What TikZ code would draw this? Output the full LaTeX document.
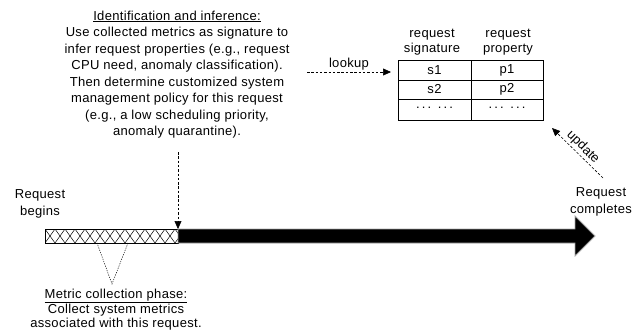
\documentclass[tikz,border=0pt]{standalone}
\usepackage{fontspec}
\setmainfont{Liberation Sans}[LetterSpace=2.5]
\newfontfamily\plainsans{Liberation Sans}
\usetikzlibrary{arrows.meta}
\begin{document}
\begin{tikzpicture}[x=1pt,y=-1pt,
  txt/.style={inner sep=0pt,align=center,font=\fontsize{13}{16.5}\selectfont},
  txtb/.style={inner sep=0pt,align=center,font=\fontsize{13}{13.8}\selectfont},
  dsh/.style={dash pattern=on 2.5pt off 1.8pt,line width=0.6pt},
  tip/.style={-{Triangle[length=8pt,width=7pt]}},
  cell/.style={inner sep=0pt,font=\fontsize{13}{15}\selectfont}]
\useasboundingbox (0,0) rectangle (643,330);
% top text
\node[txt] (idf) at (177,74.5) {\underline{Identification and inference:}\\
Use collected metrics as signature to\\
infer request properties (e.g., request\\
CPU need, anomaly classification).\\
Then determine customized system\\
management policy for this request\\
(e.g., a low scheduling priority,\\
anomaly quarantine).};
% table
\node[draw,line width=0.8pt,minimum width=145pt,minimum height=60pt,inner sep=0pt] (tbl) at (470.5,90) {};
\draw[line width=0.8pt] (398,80) -- (543,80) (398,99.5) -- (543,99.5) (471,60) -- (471,120);
\node[txt,font=\fontsize{13}{15}\selectfont] (h1) at (432,42) {request\\signature};
\node[txt,font=\fontsize{13}{15}\selectfont] (h2) at (508,42) {request\\property};
\node[cell] (s1) at (434.5,70) {s1};
\node[cell] (p1) at (507,70) {p1};
\node[cell] (s2) at (434.5,89.5) {s2};
\node[cell] (p2) at (507,89.5) {p2};
\node[cell] (d1) at (434.5,108) {.\,.\,.\enspace.\,.\,.};
\node[cell] (d2) at (507,108) {.\,.\,.\enspace.\,.\,.};
% lookup arrow
\coordinate (lk) at (307,72);
\coordinate (lkend) at (391,72);
\draw[dsh,tip] (lk) -- node[above=1.5pt,inner sep=0pt,font=\fontsize{13}{15}\selectfont] {lookup} (lkend);
% update arrow
\coordinate (upa) at (603,178);
\coordinate (upb) at (552,128);
\draw[dsh,tip] (upa) -- node[sloped,above=1.5pt,inner sep=0pt,font=\plainsans\fontsize{13}{15}\selectfont] {update} (upb);
% bar
\coordinate (split) at (178,229);
\begin{scope}
\clip (45,229) rectangle (178,243);
\foreach \i in {0,...,14} {
  \draw[line width=0.5pt] (35+10*\i,243) -- (45+10*\i,229);
  \draw[line width=0.5pt] (35+10*\i,229) -- (45+10*\i,243);
}
\end{scope}
\draw[line width=0.8pt] (45,229) rectangle (178,243);
\draw[fill=black,draw=gray!70,line width=0.8pt] (178,229) -- (575,229) -- (575,216) -- (595,236) -- (575,256) -- (575,243) -- (178,243) -- cycle;
% vertical dashed arrow
\coordinate (vs) at (178,152);
\draw[dsh,tip] (vs) -- (split);
% triangle
\coordinate (ta) at (97,243);
\coordinate (tb) at (128,243);
\coordinate (tc) at (112,284);
\draw[dash pattern=on 1.2pt off 1.2pt,line width=0.5pt] (ta) -- (tc) -- (tb);
% labels
\node[txt] (beg) at (40,204) {Request\\begins};
\node[txt] (cmp) at (601,202) {Request\\completes};
\node[txtb] (mcp) at (116,309.5) {\underline{Metric collection phase:}\\
Collect system metrics\\
associated with this request.};
\end{tikzpicture}
\end{document}
